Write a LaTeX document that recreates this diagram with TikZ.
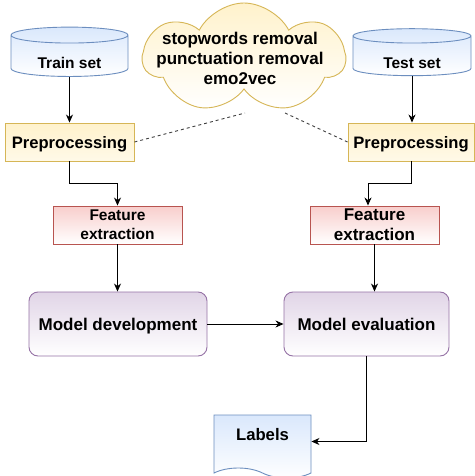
\documentclass[tikz,border=0pt]{standalone}
\usepackage{fontspec}
\setmainfont{Liberation Sans}
\usepackage{xcolor}
\definecolor{dbfill}{HTML}{DAE8FC}
\definecolor{dbline}{HTML}{6C8EBF}
\definecolor{procfill}{HTML}{FFF2CC}
\definecolor{procline}{HTML}{D6B656}
\definecolor{featfill}{HTML}{F8CECC}
\definecolor{featline}{HTML}{B85450}
\definecolor{modelfill}{HTML}{E1D5E7}
\definecolor{modelline}{HTML}{9673A6}
\usepackage{tikz}
\usetikzlibrary{shapes.geometric, shapes.symbols, arrows.meta, positioning, calc}
\newcommand{\fsz}[2]{\fontsize{#1}{#2}\selectfont\bfseries}

\begin{document}
\begin{tikzpicture}[x=1pt, y=-1pt, line width=0.9pt,
        db/.style={cylinder, shape border rotate=90, aspect=0.25, draw=dbline, top color=dbfill, bottom color=white, minimum width=117pt, minimum height=42pt, inner sep=0pt, text height=25pt, text depth=0pt, font=\fsz{15.5}{18}},
        proc/.style={rectangle, draw=procline, top color=procfill, bottom color=procfill!45, minimum width=129pt, minimum height=38pt, inner sep=0pt, text height=12pt, text depth=0pt, font=\fsz{16.6}{20}},
        feat/.style={rectangle, draw=featline, top color=featfill, bottom color=white, minimum width=129pt, minimum height=38pt, inner sep=0pt, align=center, font=\fsz{15.5}{19}},
        model/.style={rectangle, rounded corners=9pt, draw=modelline, top color=modelfill, bottom color=white, minimum height=64pt, inner sep=0pt, text height=12pt, text depth=0pt, font=\fsz{17}{20}},
        doc/.style={tape, tape bend top=none, tape bend bottom=out and in, tape bend height=10pt, draw=dbline, top color=dbfill, bottom color=white, minimum width=97pt, minimum height=63pt, inner sep=0pt, text height=0pt, text depth=3pt, font=\fsz{16.7}{20}},
        cloudbox/.style={cloud, cloud puffs=7, cloud puff arc=125, cloud ignores aspect, draw=procline, top color=procfill, bottom color=white, minimum width=202pt, minimum height=110pt, inner sep=0pt},
        cloudtext/.style={align=center, font=\fsz{17}{20}},
        line/.style={draw=black, -{Stealth[length=8pt, width=7pt, inset=2.5pt]}},
        dashline/.style={draw=black!75, dash pattern=on 3pt off 3pt}]

        \path [use as bounding box, fill=white] (0,0) rectangle (474,476);

        \node [db] (train) at (69.5,56) {Train set};
        \node [db, minimum width=118pt] (test) at (412,56) {Test set};
        \node [cloudbox, label={[cloudtext, xshift=-4pt]center:stopwords removal\\punctuation removal\\emo2vec}] (clean) at (244,58) {};
        \coordinate (cleanL) at (245,113);
        \coordinate (cleanR) at (285,113);

        \node [proc] (preL) at (69.5,142) {Preprocessing};
        \node [proc, minimum width=126pt] (preR) at (411,142) {Preprocessing};

        \node [feat] (featL) at (117.5,225) {Feature\\extraction};
        \node [feat, font=\fsz{17}{20}] (featR) at (374.5,225) {Feature\\extraction};

        \node [model, minimum width=178pt] (dev) at (118,324) {Model development};
        \node [model, minimum width=165pt] (eval) at (366.5,324) {Model evaluation};

        \node [doc] (labels) at (262.5,441.5) {Labels};

        \path [line] (train.south) -- (preL.north);
        \path [line] (test.south) -- (test.south |- preR.north);
        \path [line] (preL.south) -- ++(0,22) -| (featL.north);
        \path [line] (preR.south) -- ++(0,22) -| ([xshift=-6.5pt]featR.north);
        \path [line] (featL.south) -- (featL.south |- dev.north);
        \path [line] (featR.south) -- (featR.south |- eval.north);
        \path [line] (dev.east) -- (eval.west);
        \path [line] (eval.south) |- (labels.east);

        \draw [dashline] (preL.east) -- (cleanL);
        \draw [dashline] (cleanR) -- (preR.west);
    \end{tikzpicture}
\end{document}
